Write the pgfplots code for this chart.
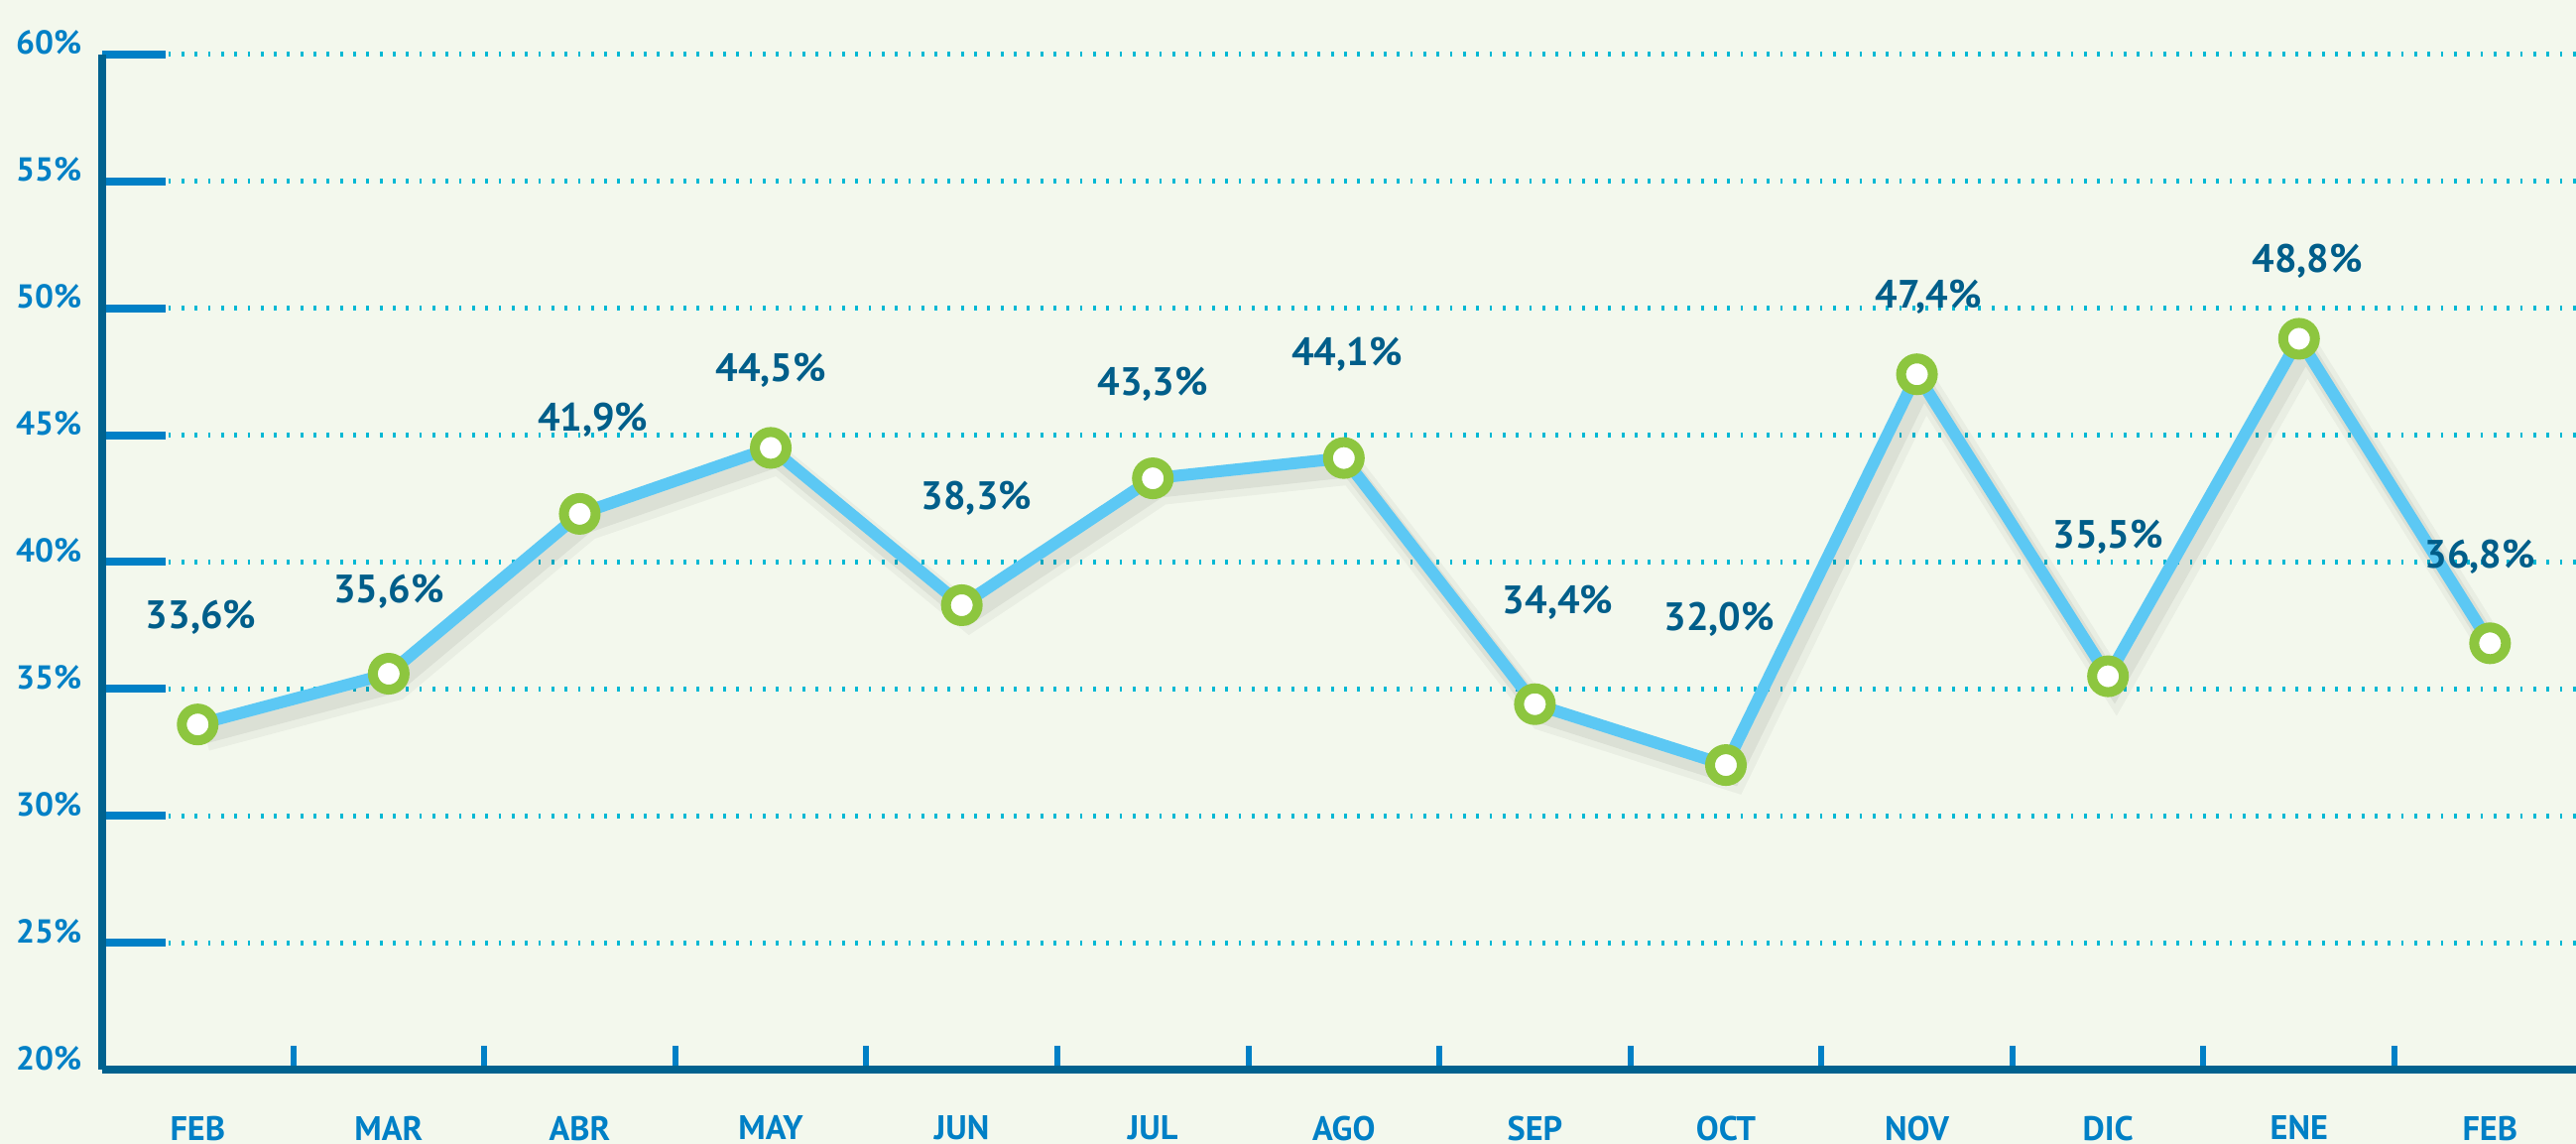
\documentclass[border=0pt]{standalone}
\usepackage{fontspec}
\setmainfont{PT Sans}
\usepackage{pgfplots}
\usepackage{pgfplotstable}
\pgfplotsset{compat=1.18}
\definecolor{bg}{RGB}{243,248,237}
\definecolor{axisblue}{RGB}{0,98,143}
\definecolor{tickblue}{RGB}{0,128,198}
\definecolor{gridcyan}{RGB}{0,184,212}
\definecolor{lineblue}{RGB}{92,200,244}
\definecolor{markgreen}{RGB}{141,198,63}
\definecolor{labelblue}{RGB}{0,94,138}
\pgfplotstableread{
x y dx dy
0 33.6 0.8 26.9
1 35.6 0.0 20.7
2 41.9 3.3 23.6
3 44.5 0.0 19.5
4 38.3 3.7 26.9
5 43.3 0.0 23.6
6 44.1 0.8 26.1
7 34.4 5.8 25.7
8 32.0 -1.7 36.8
9 47.4 2.9 19.5
10 35.5 0.0 35.2
11 48.8 2.1 19.5
12 36.8 -2.5 21.9
}\data
\begin{document}
\begin{tikzpicture}
\fill[bg] (-25.75bp,-18.75bp) rectangle (623.5bp,269.5bp);
\begin{axis}[
  at={(0,0)}, anchor=south west,
  scale only axis, width=623.5bp, height=255.75bp,
  xmin=-0.5, xmax=12.45, ymin=20, ymax=60,
  clip=false,
  axis lines*=left,
  axis line style={draw=axisblue, line width=2bp},
  /pgf/number format/assume math mode=true,
  xtick={0,...,12},
  xticklabels={FEB,MAR,ABR,MAY,JUN,JUL,AGO,SEP,OCT,NOV,DIC,ENE,FEB},
  minor x tick num=1,
  major x tick style={draw=none},
  minor x tick style={draw=tickblue, line width=1.5bp},
  minor tick length=6bp,
  ytick={20,25,...,60},
  yticklabels={20\%,25\%,30\%,35\%,40\%,45\%,50\%,55\%,60\%},
  minor y tick num=0,
  major tick length=16bp,
  tick align=inside,
  major y tick style={draw=tickblue, line width=2bp},
  ymajorgrids=true,
  grid style={draw=gridcyan, line width=1.25bp, dash pattern=on 0.7bp off 2.63bp},
  yticklabel style={font=\bfseries\fontsize{8.4}{9}\selectfont, text=tickblue, anchor=base east, inner sep=0pt, xshift=-5bp},
  xticklabel style={font=\bfseries\fontsize{8.6}{10}\selectfont, text=tickblue, anchor=north, inner sep=0pt, yshift=-11.5bp},
]
% shadow
\addplot[draw=black, opacity=0.04, line width=7bp, xshift=2bp, yshift=-3.2bp, forget plot] table[x=x,y=y] {\data};
\addplot[draw=black, opacity=0.06, line width=4.5bp, xshift=1.6bp, yshift=-2.6bp, forget plot] table[x=x,y=y] {\data};
% line
\addplot[draw=lineblue, line width=3bp, mark=*, mark size=4bp,
  mark options={draw=markgreen, fill=white, line width=2.5bp},
  point meta=y,
  visualization depends on={\thisrow{dx} \as \dx},
  visualization depends on={\thisrow{dy} \as \dy},
  nodes near coords={\pgfmathprintnumber[fixed,fixed zerofill,precision=1,use comma]{\pgfplotspointmeta}\%},
  every node near coord/.append style={anchor=center, inner sep=0pt, xshift={\dx*1bp}, yshift={\dy*1bp},
    font=\bfseries\fontsize{10}{12}\selectfont, text=labelblue},
] table[x=x,y=y] {\data};
\end{axis}
\pgfresetboundingbox
\path[use as bounding box] (-25.75bp,-18.75bp) rectangle (623.5bp,269.5bp);
\end{tikzpicture}
\end{document}
